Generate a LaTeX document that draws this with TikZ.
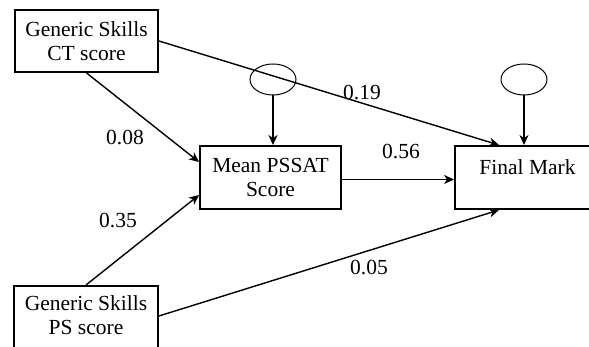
\documentclass[tikz,border=0pt]{standalone}
\usepackage{fontspec}
\setmainfont{Liberation Serif}
\newfontfamily\tnrfont{Liberation Serif}
\usetikzlibrary{arrows.meta,calc,shapes.geometric}
\begin{document}
\begin{tikzpicture}[x=1pt,y=1pt,
  every node/.style={font=\tnrfont\fontsize{21.5}{24}\selectfont},
  box/.style={draw, line width=1.9pt, rectangle, inner sep=0pt},
  boxtext/.style={align=center, inner sep=0pt},
  conn/.style={line width=1.4pt, -{Stealth[length=10pt,width=9pt,inset=3pt]}},
  err/.style={draw, line width=1pt, ellipse, minimum width=46pt, minimum height=31pt, inner sep=0pt},
  coef/.style={inner sep=0pt}]
\useasboundingbox (0,0) rectangle (589,347);
\clip (0,0) rectangle (589,347);
\fill[white] (0,0) rectangle (589,347);
% boxes
\node[box, minimum width=143pt, minimum height=62pt, align=center] (ct) at (86.5,306) {Generic Skills\\CT score};
\node[box, minimum width=144pt, minimum height=90pt, anchor=north] (ps) at (86,62) {};
\node[boxtext] (pstext) at (86,32) {Generic Skills\\PS score};
\node[box, minimum width=141pt, minimum height=63pt, align=center] (mean) at (270.5,169.5) {Mean PSSAT\\Score};
\node[box, minimum width=145pt, minimum height=63pt] (final) at (527.5,169.5) {};
\node[boxtext] (finaltext) at (527.5,180) {Final Mark};
% error ellipses
\node[err] (e1) at (273,267.5) {};
\node[err] (e2) at (524,267.5) {};
% connectors
\draw[conn] (e1.south) -- (e1.south |- mean.north);
\draw[conn] (e2.south) -- (e2.south |- final.north);
\draw[conn] (ct.south) -- ($(mean.west)+(0,15.5)$);
\draw[conn] (ct.east) -- ($(final.north west)+(45,0)$);
\draw[conn] ($(mean.east)+(0,-2)$) -- ($(final.west)+(0,-2)$);
\draw[conn] (ps.north) -- ($(mean.west)+(0,-17.5)$);
\draw[conn] ($(ps.north east)+(0,-31)$) -- ($(final.south west)+(45,0)$);
% coefficients
\node[coef] (c19) at (362,254) {0.19};
\node[coef] (c08) at (125,209) {0.08};
\node[coef] (c56) at (401,195) {0.56};
\node[coef] (c35) at (118,126) {0.35};
\node[coef] (c05) at (369,79) {0.05};
\end{tikzpicture}
\end{document}
